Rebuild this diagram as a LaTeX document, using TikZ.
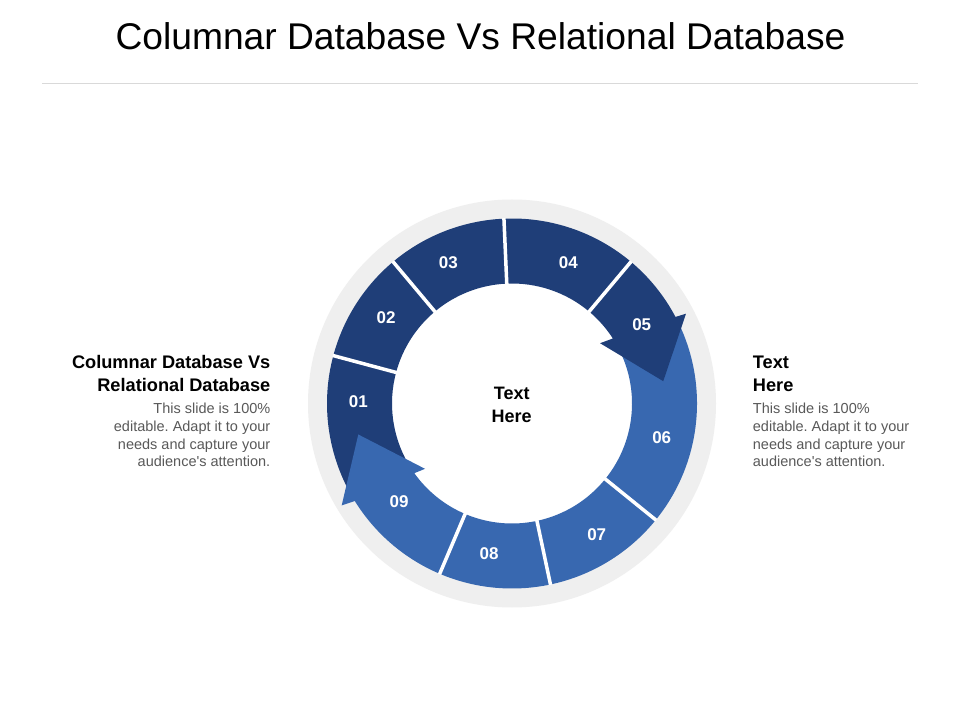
\documentclass[tikz,border=0pt]{standalone}
\usepackage{fontspec}
\setmainfont{Liberation Sans}[Ligatures=TeXOff]
\definecolor{darkseg}{HTML}{1F3E78}
\definecolor{lightseg}{HTML}{3868B0}
\definecolor{ringgray}{HTML}{EFEFEF}
\definecolor{bodygray}{HTML}{595959}
\definecolor{rulegray}{HTML}{D9D9D9}
\tikzset{
  titletext/.style={inner sep=0pt, font=\fontsize{37.2}{44}\selectfont, text=black},
  headtext/.style={inner sep=0pt, font=\bfseries\fontsize{18.2}{22}\selectfont, text=black},
  bodytext/.style={inner sep=0pt, font=\fontsize{14.5}{17.6}\selectfont, text=bodygray},
  numtext/.style={inner sep=0pt, font=\bfseries\fontsize{17}{20}\selectfont, text=white},
  centertext/.style={inner sep=0pt, font=\bfseries\fontsize{18}{22}\selectfont, text=black},
  gapline/.style={white, line width=3.5pt}
}
\newcommand{\ringseg}[3]{\fill[#1] (#2:120pt) arc[start angle=#2, end angle=#3, radius=120pt] -- (#3:185pt) arc[start angle=#3, end angle=#2, radius=185pt] -- cycle;}
\frenchspacing
\begin{document}
\begin{tikzpicture}[x=1pt,y=1pt]
\useasboundingbox (0,0) rectangle (960,720);
\fill[white] (0,0) rectangle (960,720);
% title
\node[titletext, anchor=base] (title) at (480.5,670.7) {Columnar Database Vs Relational Database};
\draw[rulegray, line width=1pt] (42,636) -- (918,636);
% ring
\begin{scope}[shift={(512,316.5)}]
  \fill[ringgray, even odd rule] (0,0) circle[radius=204pt] (0,0) circle[radius=183pt];
  \ringseg{darkseg}{165}{210}
  \ringseg{lightseg}{-39}{26}
  \ringseg{darkseg}{130}{165}
  \ringseg{darkseg}{92.5}{130}
  \ringseg{darkseg}{50}{92.5}
  \ringseg{lightseg}{-78}{-39}
  \ringseg{lightseg}{-113}{-78}
  % arrow 05
  \fill[darkseg] (50:120pt) arc[start angle=50, end angle=32.8, radius=120pt]
     -- (34.4:106.7pt) -- (8.4:152.9pt) -- (27.3:195.8pt) -- (27.9:185pt)
     arc[start angle=27.9, end angle=50, radius=185pt] -- cycle;
  % arrow 09
  \fill[lightseg] (247:120pt) arc[start angle=247, end angle=215.5, radius=120pt]
     -- (216.9:108.8pt) -- (191.4:156.8pt) -- (210.9:198.5pt) -- (211.8:185pt)
     arc[start angle=211.8, end angle=247, radius=185pt] -- cycle;
  % gaps
  \foreach \a in {165,130,92.5,50,-39,-78,-113}
    \draw[gapline] (\a:117pt) -- (\a:185.5pt);
\end{scope}
% numbers
\node[numtext] (n01) at (358.3,318.3) {01};
\node[numtext] (n02) at (386,402.7) {02};
\node[numtext] (n03) at (448.3,457.3) {03};
\node[numtext] (n04) at (568.3,457.3) {04};
\node[numtext] (n05) at (641.7,395) {05};
\node[numtext] (n06) at (661.7,282.7) {06};
\node[numtext] (n07) at (596.7,185) {07};
\node[numtext] (n08) at (489,166.7) {08};
\node[numtext] (n09) at (399,218.3) {09};
% center
\node[centertext, anchor=base] (c1) at (511.7,320) {Text};
\node[centertext, anchor=base] (c2) at (511.7,297.3) {Here};
% left block
\node[headtext, anchor=base east] (lh1) at (270.5,351.7) {Columnar Database Vs};
\node[headtext, anchor=base east] (lh2) at (270.5,328.3) {Relational Database};
\node[bodytext, anchor=base east] (lb1) at (270.5,306) {This slide is 100\%};
\node[bodytext, anchor=base east] (lb2) at (270.5,288.3) {editable. Adapt it to your};
\node[bodytext, anchor=base east] (lb3) at (270.5,270.7) {needs and capture your};
\node[bodytext, anchor=base east] (lb4) at (270.5,253.3) {audience's attention.};
% right block
\node[headtext, anchor=base west] (rh1) at (752.7,351.7) {Text};
\node[headtext, anchor=base west] (rh2) at (752.7,328.3) {Here};
\node[bodytext, anchor=base west] (rb1) at (752.7,306) {This slide is 100\%};
\node[bodytext, anchor=base west] (rb2) at (752.7,288.3) {editable. Adapt it to your};
\node[bodytext, anchor=base west] (rb3) at (752.7,270.7) {needs and capture your};
\node[bodytext, anchor=base west] (rb4) at (752.7,253.3) {audience's attention.};
\end{tikzpicture}
\end{document}
